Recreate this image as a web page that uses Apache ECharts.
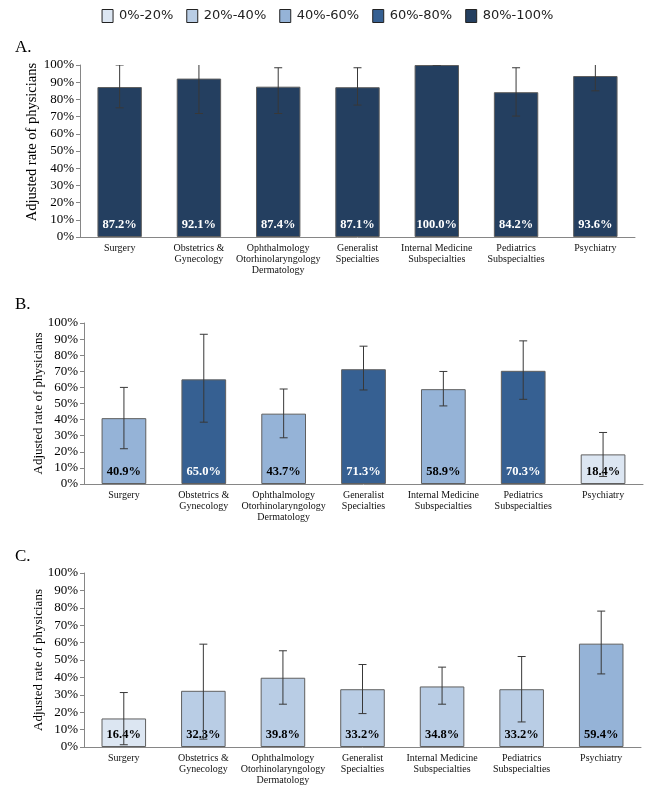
<!DOCTYPE html>
<html>
<head>
<meta charset="utf-8">
<script src="https://cdn.jsdelivr.net/npm/echarts@6/dist/echarts.min.js"></script>
<style>html,body{margin:0;padding:0;background:#fff;}#chart{width:655px;height:786px;}</style>
</head>
<body>
<div id="chart"></div>
<script>
const categories = ['Surgery', 'Obstetrics &\nGynecology', 'Ophthalmology\nOtorhinolaryngology\nDermatology', 'Generalist\nSpecialties', 'Internal Medicine\nSubspecialties', 'Pediatrics\nSubspecialties', 'Psychiatry'];
const yTicks = [0, 10, 20, 30, 40, 50, 60, 70, 80, 90, 100];
const panelTitles = ['A.', 'B.', 'C.'];
const binNames = ['0%-20%', '20%-40%', '40%-60%', '60%-80%', '80%-100%'];
const binColors = ['#dce6f2', '#b9cde5', '#95b3d7', '#366092', '#243f60'];

const valuesA = [87.2, 92.1, 87.4, 87.1, 100.0, 84.2, 93.6];
const lowA = [75.1, 71.8, 71.8, 76.7, 100.0, 70.3, 85.0];
const highA = [100.0, 105.0, 98.4, 98.4, 100.0, 98.4, 105.0];

const valuesB = [40.9, 65.0, 43.7, 71.3, 58.9, 70.3, 18.4];
const lowB = [21.9, 38.4, 28.7, 58.4, 48.5, 52.6, 4.7];
const highB = [60.0, 93.0, 59.0, 85.6, 69.9, 88.9, 32.0];

const valuesC = [16.4, 32.3, 39.8, 33.2, 34.8, 33.2, 59.4];
const lowC = [1.3, 4.5, 24.6, 19.2, 24.6, 14.4, 42.0];
const highC = [31.3, 59.1, 55.3, 47.4, 45.9, 52.0, 78.1];

const panels = [
  { values: valuesA, low: lowA, high: highA },
  { values: valuesB, low: lowB, high: highB },
  { values: valuesC, low: lowC, high: highC }
];

const SERIF = '"Liberation Serif", "Times New Roman", serif';
const grids = [
  { left: 80, right: 20, top: 65, bottom: 549 },
  { left: 84, right: 12, top: 323, bottom: 302 },
  { left: 84, right: 14, top: 573, bottom: 39 }
];
const titleTops = [34, 291, 543];
const nameStyles = [
  { fontSize: 14.5, gap: 40, pad: [0, 0, 0, 18] },
  { fontSize: 13, gap: 39, pad: [0, 0, 0, 0] },
  { fontSize: 13, gap: 39, pad: [0, 0, 0, 0] }
];

function binOf(v) { return Math.min(4, Math.floor(v / 20)); }

const xAxes = [], yAxes = [], series = [], titles = [];
panels.forEach((p, k) => {
  titles.push({ text: panelTitles[k], left: 10, top: titleTops[k],
    textStyle: { fontFamily: SERIF, fontSize: 17, fontWeight: 'normal', color: '#000' } });
  xAxes.push({
    type: 'category', gridIndex: k, data: categories,
    axisLine: { lineStyle: { color: '#868686', width: 1 } },
    axisTick: { show: false },
    axisLabel: { interval: 0, fontFamily: SERIF, fontSize: 10, lineHeight: 11, color: '#111', margin: 6 }
  });
  yAxes.push({
    type: 'value', gridIndex: k, min: 0, max: 100, interval: 10,
    name: 'Adjusted rate of physicians', nameLocation: 'middle', nameGap: nameStyles[k].gap,
    nameMoveOverlap: false,
    nameTextStyle: { fontFamily: SERIF, fontSize: nameStyles[k].fontSize, color: '#000', padding: nameStyles[k].pad },
    axisLine: { show: true, lineStyle: { color: '#868686', width: 1 } },
    axisTick: { show: true, length: 4, lineStyle: { color: '#868686' } },
    splitLine: { show: false },
    axisLabel: { fontFamily: SERIF, fontSize: 13, color: '#000', margin: 6,
      formatter: v => (yTicks.indexOf(v) >= 0 ? v + '%' : '') }
  });
  series.push({
    type: 'bar', xAxisIndex: k, yAxisIndex: k, barWidth: '56%',
    data: p.values.map(v => ({
      value: v,
      itemStyle: { color: binColors[binOf(v)], borderColor: '#5f5f5f', borderWidth: 1 },
      label: { color: binOf(v) >= 3 ? '#fff' : '#000' }
    })),
    label: { show: true, position: 'insideBottom', distance: 6,
      fontFamily: SERIF, fontSize: 12.5, fontWeight: 'bold',
      formatter: d => d.value.toFixed(1) + '%' },
    silent: true
  });
  series.push({
    type: 'custom', xAxisIndex: k, yAxisIndex: k, clip: true, z: 5,
    data: p.values.map((v, i) => [i, p.low[i], p.high[i]]),
    encode: { x: 0, y: [1, 2] },
    renderItem: function (params, api) {
      const i = api.value(0);
      const lo = api.coord([i, api.value(1)]);
      const hi = api.coord([i, api.value(2)]);
      const hw = 4;
      const st = { stroke: '#383838', lineWidth: 1 };
      return { type: 'group', children: [
        { type: 'line', shape: { x1: lo[0], y1: lo[1], x2: hi[0], y2: hi[1] }, style: st },
        { type: 'line', shape: { x1: hi[0] - hw, y1: hi[1], x2: hi[0] + hw, y2: hi[1] }, style: st },
        { type: 'line', shape: { x1: lo[0] - hw, y1: lo[1], x2: lo[0] + hw, y2: lo[1] }, style: st }
      ] };
    },
    silent: true
  });
});

binNames.forEach((n, i) => {
  series.push({ type: 'scatter', name: n, xAxisIndex: 0, yAxisIndex: 0, data: [],
    itemStyle: { color: binColors[i], borderColor: '#222', borderWidth: 1, opacity: 1 } });
});

const chart = echarts.init(document.getElementById('chart'), null, { renderer: 'canvas' });
chart.setOption({
  animation: false,
  backgroundColor: '#fff',
  title: titles,
  legend: {
    top: 4, left: 'center', icon: 'rect', itemWidth: 11, itemHeight: 13, itemGap: 13,
    selectedMode: false,
    data: binNames.map((n, i) => ({ name: n, itemStyle: { color: binColors[i], opacity: 1, borderColor: '#222', borderWidth: 1 } })),
    textStyle: { fontFamily: '"DejaVu Sans", sans-serif', fontSize: 13, color: '#222', padding: [0, 0, 0, 1] }
  },
  grid: grids,
  xAxis: xAxes,
  yAxis: yAxes,
  series: series
});
</script>
</body>
</html>
